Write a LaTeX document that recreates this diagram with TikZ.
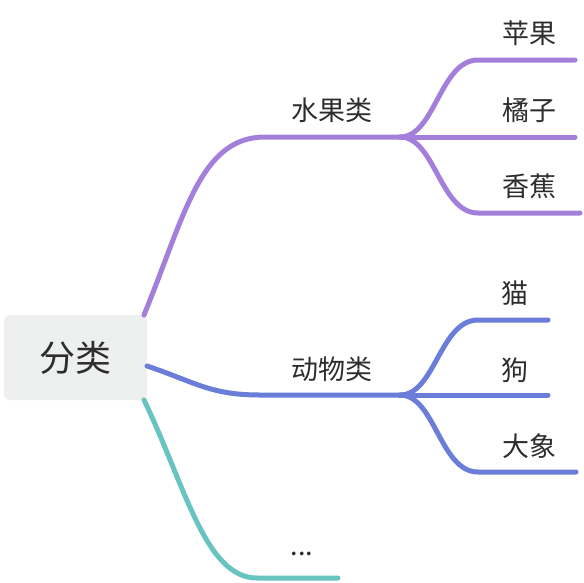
\documentclass[tikz,border=0pt]{standalone}
\usepackage{fontspec}
\newfontfamily\cjk{Noto Sans CJK SC}
\definecolor{purp}{RGB}{163,127,219}
\definecolor{blu}{RGB}{106,125,216}
\definecolor{teal2}{RGB}{104,196,192}
\definecolor{rootbg}{RGB}{238,239,239}
\definecolor{txt}{RGB}{45,45,45}
\begin{document}
\begin{tikzpicture}[x=1pt,y=-1pt,
  br/.style={line width=5pt, line cap=round},
  lbl/.style={font=\cjk\fontsize{27}{32}\selectfont, text=txt, inner sep=0pt}]
\useasboundingbox (0,0) rectangle (584,582);
\node[fill=rootbg, rounded corners=6pt, minimum width=143pt, minimum height=85pt,
  inner sep=0pt, font=\cjk\fontsize{36}{42}\selectfont, text=txt] (root) at (75.5,357.5) {分类};
% coordinates
\coordinate (pS) at (144,315);
\coordinate (pE) at (265,137);
\coordinate (pF) at (400,137);
\coordinate (bS) at (147,366);
\coordinate (bE) at (260,395);
\coordinate (bF) at (400,395);
\coordinate (tS) at (144,400);
\coordinate (tE) at (257,578);
\coordinate (tF) at (338,578);
% purple
\draw[br, purp] (pS) .. controls (185,215) and (200,137) .. (pE) -- (pF);
\draw[br, purp] (pF) .. controls (435,137) and (440,60) .. (478,60) coordinate (a1) -- (575,60) coordinate (a1e);
\draw[br, purp] (pF) -- (575,137) coordinate (a2e);
\draw[br, purp] (pF) .. controls (435,137) and (440,213) .. (478,213) coordinate (a3) -- (580,213) coordinate (a3e);
% blue
\draw[br, blu] (bS) .. controls (195,382) and (210,395) .. (bE) -- (bF);
\draw[br, blu] (bF) .. controls (435,395) and (440,320) .. (478,320) coordinate (b1) -- (548,320) coordinate (b1e);
\draw[br, blu] (bF) -- (548,395) coordinate (b2e);
\draw[br, blu] (bF) .. controls (435,395) and (440,472) .. (478,472) coordinate (b3) -- (576,472) coordinate (b3e);
% teal
\draw[br, teal2] (tS) .. controls (185,485) and (205,578) .. (tE) -- (tF);
% labels
\node[lbl] (fruit) at (332,110) {水果类};
\node[lbl] (apple) at (529,33) {苹果};
\node[lbl] (orange) at (529,110) {橘子};
\node[lbl] (banana) at (529,186) {香蕉};
\node[lbl] (animal) at (332,369) {动物类};
\node[lbl] (cat) at (515,293) {猫};
\node[lbl] (dog) at (515,370) {狗};
\node[lbl] (eleph) at (529,446) {大象};
\node[lbl] (more) at (302,554) {...};
\end{tikzpicture}
\end{document}
